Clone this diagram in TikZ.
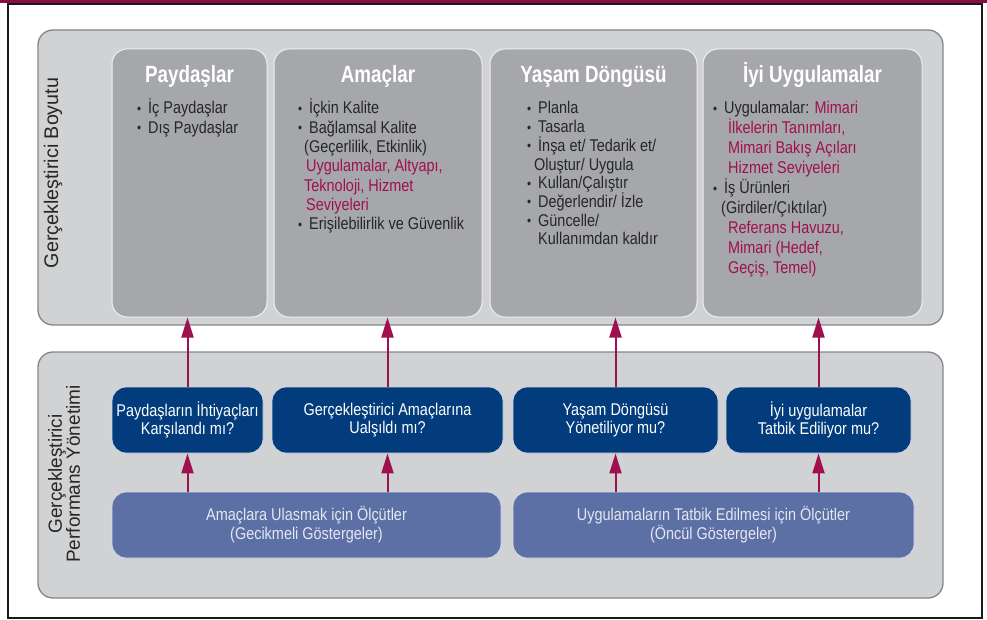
\documentclass[tikz,border=0pt]{standalone}
\usepackage{fontspec}
\setmainfont{Liberation Sans}[FakeStretch=0.85]
\newfontfamily\headfont{Liberation Sans}[FakeStretch=0.8]
\newfontfamily\sidefont{Liberation Sans}
\usetikzlibrary{arrows.meta}

\definecolor{panelgray}{HTML}{D1D2D4}
\definecolor{panelline}{HTML}{85868A}
\definecolor{colgray}{HTML}{A6A7AA}
\definecolor{navy}{HTML}{023C7C}
\definecolor{slate}{HTML}{5D70A6}
\definecolor{crimson}{HTML}{A0104F}
\definecolor{bodytext}{HTML}{262626}
\definecolor{paletext}{HTML}{E4E7F0}

% bullet and highlighted words used in the column lists
\newcommand\bitem{\makebox[11pt][l]{\raisebox{0.5pt}{\scalebox{0.8}{\textbullet}}}}
\newcommand\hl[1]{\textcolor{crimson}{#1}}
\newcommand\collist[2]{\parbox[t]{200pt}{\fontsize{17}{#1}\selectfont\raggedright #2}}

\tikzset{
  panel/.style={draw=panelline, line width=1.3pt, fill=panelgray, rounded corners=15pt, inner sep=0pt},
  column/.style={draw=white!88!gray, line width=1pt, fill=colgray, rounded corners=15pt, inner sep=0pt},
  question/.style={draw=white!80!navy, line width=0.8pt, fill=navy, rounded corners=14pt, inner sep=0pt,
    text=white, align=center, font=\fontsize{17}{18}\selectfont},
  measure/.style={draw=white!75!slate, line width=0.8pt, fill=slate, rounded corners=14pt, inner sep=0pt,
    text=paletext, align=center, font=\fontsize{17}{19}\selectfont},
  title/.style={text=white, inner sep=0pt, anchor=base, font=\headfont\bfseries\fontsize{23.5}{26}\selectfont},
  listtext/.style={text=bodytext, inner sep=0pt, anchor=base west},
  sidelabel/.style={text=bodytext, inner sep=0pt, rotate=90, align=center, font=\sidefont\fontsize{19}{18}\selectfont},
  uparrow/.style={draw=crimson, line width=2pt, -{Triangle[width=12pt,length=20pt]}},
}

\begin{document}
\begin{tikzpicture}[x=1pt, y=-1pt]
\useasboundingbox (0,0) rectangle (987,620);

% outer frame with the coloured top rule
\fill[white] (0,0) rectangle (987,620);
\draw[black!90, line width=2pt] (8,4) rectangle (982,618);
\fill[crimson!85!black] (0,0) rectangle (987,3.5);

% the two grey panels
\node[panel, minimum width=905pt, minimum height=295pt] (upper) at (490.5,177.5) {};
\node[panel, minimum width=905pt, minimum height=246pt] (lower) at (490.5,475) {};

% rotated panel labels
\node[sidelabel, font=\sidefont\fontsize{19.7}{18}\selectfont] (upperlabel) at (53,173) {Gerçekleştirici Boyutu};
\node[sidelabel] (lowerlabel) at (64,474) {Gerçekleştirici\\Performans Yönetimi};

% the four columns of the upper panel
\node[column, minimum width=155pt, minimum height=268pt] (c1) at (189.5,183) {};
\node[column, minimum width=208pt, minimum height=268pt] (c2) at (378,183) {};
\node[column, minimum width=207pt, minimum height=268pt] (c3) at (593.5,183) {};
\node[column, minimum width=219pt, minimum height=268pt] (c4) at (812.5,183) {};

\node[title] (t1) at (189.5,83) {Paydaşlar};
\node[title] (t2) at (378,83) {Amaçlar};
\node[title] (t3) at (593.5,83) {Yaşam Döngüsü};
\node[title] (t4) at (812.5,83) {İyi Uygulamalar};

\node[listtext] (l1) at (137,114) {\collist{19.3pt}{%
  \bitem İç Paydaşlar\\
  \bitem Dış Paydaşlar}};

\node[listtext] (l2) at (298,114) {\collist{19.3pt}{%
  \bitem İçkin Kalite\\
  \bitem Bağlamsal Kalite\\
  \hspace*{6pt}(Geçerlilik, Etkinlik)\\
  \hspace*{8pt}\hl{Uygulamalar, Altyapı,}\\
  \hspace*{6pt}\hl{Teknoloji, Hizmet}\\
  \hspace*{8pt}\hl{Seviyeleri}\\
  \bitem Erişilebilirlik ve Güvenlik}};

\node[listtext] (l3) at (527,114) {\collist{18.7pt}{%
  \bitem Planla\\
  \bitem Tasarla\\
  \bitem İnşa et/ Tedarik et/\\
  \hspace*{7pt}Oluştur/ Uygula\\
  \bitem Kullan/Çalıştır\\
  \bitem Değerlendir/ İzle\\
  \bitem Güncelle/\\
  \hspace*{11pt}Kullanımdan kaldır}};

\node[listtext] (l4) at (713,114) {\collist{20pt}{%
  \bitem Uygulamalar: \hl{Mimari}\\
  \hspace*{15pt}\hl{İlkelerin Tanımları,}\\
  \hspace*{15pt}\hl{Mimari Bakış Açıları}\\
  \hspace*{15pt}\hl{Hizmet Seviyeleri}\\
  \bitem İş Ürünleri\\
  \hspace*{8pt}(Girdiler/Çıktılar)\\
  \hspace*{15pt}\hl{Referans Havuzu,}\\
  \hspace*{15pt}\hl{Mimari (Hedef,}\\
  \hspace*{15pt}\hl{Geçiş, Temel)}}};

% question boxes of the lower panel
\node[question, minimum width=151pt, minimum height=66pt] (q1) at (187.5,420) {Paydaşların İhtiyaçları\\Karşılandı mı?};
\node[question, minimum width=231pt, minimum height=66pt] (q2) at (387.5,420) {Gerçekleştirici Amaçlarına\\Ualşıldı mı?};
\node[question, minimum width=205pt, minimum height=66pt] (q3) at (615.5,420) {Yaşam Döngüsü\\Yönetiliyor mu?};
\node[question, minimum width=185pt, minimum height=66pt] (q4) at (818.5,420) {İyi uygulamalar\\Tatbik Ediliyor mu?};

% measurement boxes
\node[measure, minimum width=389pt, minimum height=66pt] (ma) at (306.5,525) {Amaçlara Ulasmak için Ölçütler\\(Gecikmeli Göstergeler)};
\node[measure, minimum width=401pt, minimum height=66pt] (mb) at (713.5,525) {Uygulamaların Tatbik Edilmesi için Ölçütler\\(Öncül Göstergeler)};

% arrows from questions up to the columns
\draw[uparrow] (q1.north) -- (q1.north |- c1.south);
\draw[uparrow] (q2.north) -- (q2.north |- c2.south);
\draw[uparrow] (q3.north) -- (q3.north |- c3.south);
\draw[uparrow] (q4.north) -- (q4.north |- c4.south);

% arrows from measurements up to the questions
\draw[uparrow] (q1.south |- ma.north) -- (q1.south);
\draw[uparrow] (q2.south |- ma.north) -- (q2.south);
\draw[uparrow] (q3.south |- mb.north) -- (q3.south);
\draw[uparrow] (q4.south |- mb.north) -- (q4.south);
\end{tikzpicture}
\end{document}
